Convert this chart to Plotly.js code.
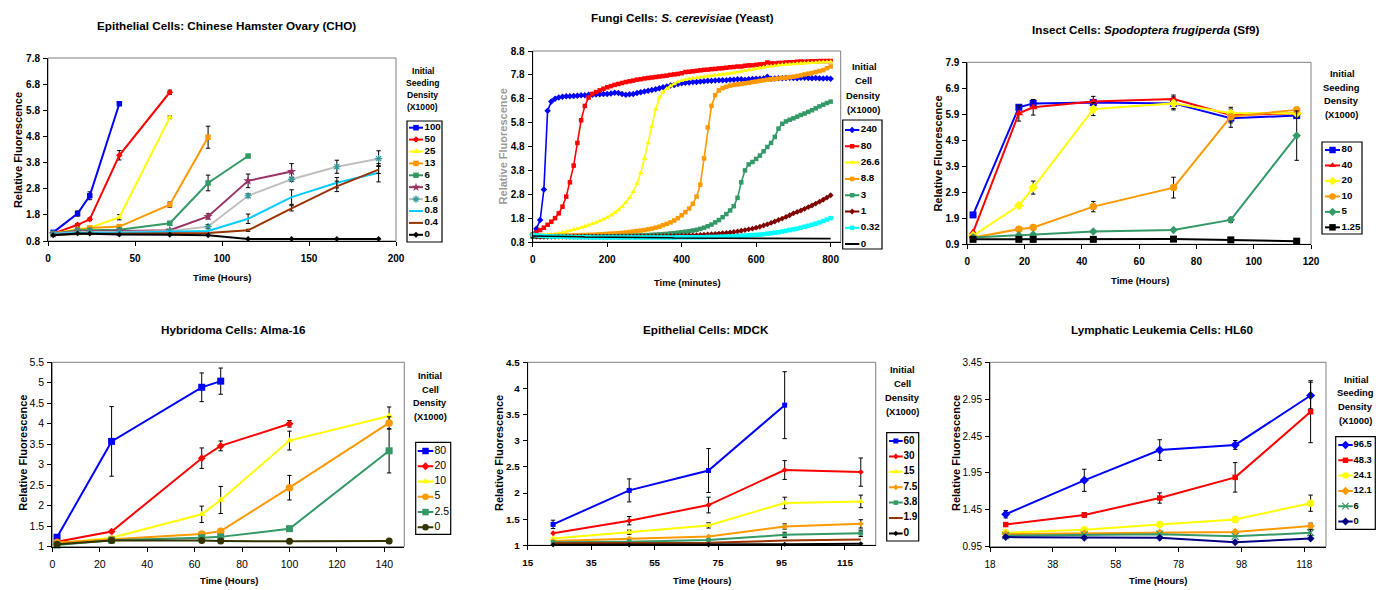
<!DOCTYPE html>
<html><head><meta charset="utf-8">
<script src="https://cdn.plot.ly/plotly-3.0.1.min.js"></script>
<style>html,body{margin:0;padding:0;background:#fff}#chart{width:1394px;height:590px}</style>
</head><body><div id="chart"></div>
<script>
// ================= DATA =================
// Panel 1: CHO
const choTime = [3, 17, 24, 41, 70, 92, 115, 140, 166, 190];
const choLabels = ['100','50','25','13','6','3','1.6','0.8','0.4','0'];
const cho100 = [1.13, 1.85, 2.53, 6.05];
const cho100Err = [0.04, 0.1, 0.15, null];
const cho50 = [1.08, 1.42, 1.63, 4.08, 6.49];
const cho50Err = [null, 0.05, 0.05, 0.18, 0.08];
const cho25 = [1.08, 1.26, 1.30, 1.71, 5.53];
const cho25Err = [null, 0.05, 0.05, 0.1, 0.05];
const cho13 = [1.08, 1.21, 1.30, 1.35, 2.19, 4.77];
const cho13Err = [null, null, 0.05, 0.05, 0.1, 0.42];
const cho6 = [1.08, 1.21, 1.21, 1.23, 1.48, 3.02, 4.05];
const cho6Err = [null, null, null, null, 0.05, 0.3, 0.05];
const cho3 = [1.08, 1.16, 1.16, 1.18, 1.21, 1.74, 3.10, 3.46];
const cho3Err = [null, null, null, null, null, 0.1, 0.26, 0.3];
const cho16 = [1.08, 1.14, 1.14, 1.14, 1.18, 1.35, 2.53, 3.16, 3.64, 3.95];
const cho16Err = [null, null, null, null, null, 0.08, 0.07, 0.08, 0.25, 0.3];
const cho08 = [1.08, 1.12, 1.12, 1.12, 1.14, 1.18, 1.65, 2.48, 3.03, 3.41];
const cho08Err = [null, null, null, null, null, null, 0.18, 0.28, 0.2, 0.35];
const cho04 = [1.04, 1.08, 1.08, 1.08, 1.11, 1.11, 1.21, 2.05, 2.89, 3.53];
const cho04Err = [null, null, null, null, null, null, 0.04, 0.1, 0.2, 0.15];
const cho0 = [1.02, 1.09, 1.08, 1.05, 1.04, 1.02, 0.88, 0.88, 0.88, 0.88];

// Panel 2: Yeast
const yeastTime = [0,10,20,30,40,50,60,70,80,90,100,110,120,130,140,150,160,170,180,190,200,210,220,230,240,250,260,270,280,290,300,310,320,330,340,350,360,370,380,390,400,410,420,430,440,450,460,470,480,490,500,510,520,530,540,550,560,570,580,590,600,610,620,630,640,650,660,670,680,690,700,710,720,730,740,750,760,770,780,790,800];
const yeastLabels = ['240','80','26.6','8.8','3','1','0.32','0'];
const yeast240 = [1.12,1.35,1.72,3.0,6.3,6.68,6.8,6.85,6.88,6.9,
 6.9,6.92,6.93,6.95,6.95,6.97,6.97,6.98,6.99,7.0,
 7.0,7.02,7.05,7.04,7.0,6.97,6.99,7.0,7.04,7.07,
 7.1,7.13,7.17,7.2,7.24,7.28,7.31,7.35,7.38,7.42,
 7.45,7.47,7.48,7.5,7.5,7.52,7.53,7.55,7.55,7.56,
 7.57,7.58,7.58,7.6,7.6,7.62,7.62,7.6,7.62,7.63,
 7.64,7.64,7.65,7.72,7.64,7.65,7.66,7.66,7.67,7.68,
 7.67,7.66,7.68,7.68,7.67,7.66,7.67,7.66,7.65,7.66,7.64];
const yeast80 = [1.1,1.2,1.3,1.4,1.52,1.65,1.8,2.0,2.28,2.7,
 3.3,4.0,4.95,5.9,6.5,6.85,7.0,7.08,7.15,7.22,
 7.28,7.33,7.38,7.42,7.46,7.5,7.53,7.56,7.6,7.62,
 7.65,7.67,7.69,7.71,7.73,7.75,7.77,7.8,7.82,7.84,
 7.87,7.92,7.93,7.95,7.97,7.99,8.01,8.02,8.04,8.05,
 8.07,8.08,8.1,8.12,8.13,8.15,8.15,8.18,8.2,8.2,
 8.22,8.24,8.25,8.32,8.28,8.28,8.3,8.3,8.32,8.33,
 8.33,8.35,8.36,8.35,8.36,8.37,8.37,8.38,8.38,8.38,8.38];
const yeast266 = [1.05,1.06,1.07,1.08,1.1,1.12,1.14,1.17,1.2,1.23,
 1.27,1.31,1.35,1.4,1.45,1.5,1.56,1.62,1.68,1.75,
 1.83,1.92,2.02,2.14,2.28,2.45,2.65,2.9,3.25,3.7,
 4.3,4.95,5.65,6.35,6.85,7.08,7.22,7.33,7.42,7.5,
 7.56,7.6,7.63,7.66,7.68,7.7,7.72,7.74,7.76,7.78,
 7.8,7.82,7.84,7.86,7.88,7.91,7.94,7.97,8.0,8.03,
 8.06,8.09,8.12,8.14,8.16,8.18,8.2,8.22,8.23,8.25,
 8.26,8.27,8.28,8.29,8.3,8.31,8.32,8.33,8.34,8.34,8.35];
const yeast88 = [1.05,1.05,1.05,1.05,1.05,1.05,1.06,1.06,1.06,1.07,
 1.07,1.08,1.08,1.09,1.09,1.1,1.1,1.11,1.12,1.13,
 1.14,1.15,1.16,1.17,1.18,1.2,1.22,1.24,1.26,1.28,
 1.3,1.33,1.36,1.4,1.44,1.5,1.56,1.62,1.7,1.8,
 1.92,2.05,2.2,2.4,2.7,3.2,4.3,5.6,6.5,6.95,
 7.15,7.25,7.3,7.35,7.38,7.4,7.42,7.45,7.47,7.5,
 7.52,7.55,7.57,7.6,7.62,7.63,7.65,7.67,7.68,7.7,
 7.72,7.75,7.78,7.82,7.85,7.88,7.92,7.96,8.0,8.08,8.15];
const yeast3 = [1.02,1.02,1.02,1.02,1.02,1.02,1.02,1.02,1.02,1.02,
 1.02,1.02,1.02,1.03,1.03,1.03,1.03,1.03,1.03,1.04,
 1.04,1.04,1.04,1.05,1.05,1.05,1.06,1.06,1.07,1.08,
 1.08,1.09,1.1,1.11,1.12,1.13,1.14,1.16,1.17,1.19,
 1.21,1.23,1.25,1.28,1.31,1.35,1.4,1.46,1.53,1.62,
 1.72,1.84,1.97,2.12,2.3,2.65,3.3,3.8,4.05,4.15,
 4.28,4.42,4.6,4.78,4.95,5.2,5.55,5.75,5.85,5.92,
 5.98,6.05,6.12,6.18,6.25,6.32,6.4,6.48,6.55,6.62,6.68];
const yeast1 = [1.03,1.03,1.02,1.02,1.02,1.02,1.02,1.02,1.02,1.02,
 1.02,1.02,1.02,1.02,1.02,1.02,1.02,1.02,1.02,1.02,
 1.02,1.02,1.02,1.02,1.02,1.02,1.02,1.03,1.03,1.03,
 1.03,1.03,1.03,1.04,1.04,1.04,1.04,1.05,1.05,1.05,
 1.06,1.06,1.07,1.08,1.09,1.1,1.11,1.12,1.13,1.14,
 1.15,1.17,1.18,1.2,1.22,1.24,1.27,1.3,1.33,1.36,
 1.4,1.44,1.49,1.54,1.6,1.66,1.72,1.78,1.85,1.92,
 2.0,2.06,2.12,2.19,2.26,2.33,2.41,2.49,2.57,2.66,2.76];
const yeast032 = [1.1,1.08,1.06,1.05,1.04,1.03,1.03,1.02,1.02,1.01,
 1.01,1.0,1.0,1.0,1.0,1.0,0.99,0.99,0.99,0.99,
 0.99,0.99,0.99,0.99,0.99,0.99,0.99,0.99,0.99,0.99,
 0.99,0.99,0.99,0.99,0.99,0.99,0.99,0.99,0.99,1.0,
 1.0,1.0,1.0,1.0,1.0,1.0,1.0,1.01,1.01,1.01,
 1.02,1.02,1.03,1.03,1.04,1.05,1.06,1.07,1.08,1.09,
 1.1,1.11,1.13,1.15,1.17,1.19,1.21,1.24,1.27,1.3,
 1.33,1.36,1.4,1.44,1.48,1.52,1.57,1.62,1.68,1.74,1.8];
const yeast0 = [1.05,1.05,1.05,1.04,1.04,1.04,1.03,1.03,1.03,1.03,
 1.02,1.02,1.02,1.02,1.01,1.01,1.01,1.01,1.01,1.0,
 1.0,1.0,1.0,1.0,1.0,0.99,0.99,0.99,0.99,0.99,
 0.99,0.98,0.98,0.98,0.98,0.98,0.98,0.98,0.97,0.97,
 0.97,0.97,0.97,0.97,0.97,0.97,0.96,0.96,0.96,0.96,
 0.96,0.96,0.96,0.96,0.96,0.95,0.95,0.95,0.95,0.95,
 0.95,0.95,0.95,0.95,0.95,0.95,0.94,0.94,0.94,0.94,
 0.94,0.94,0.94,0.94,0.94,0.94,0.94,0.94,0.94,0.94,0.94];

// Panel 3: Sf9
const sf9Time = [2, 18, 23, 44, 72, 92, 115];
const sf9Labels = ['80','40','20','10','5','1.25'];
const sf80 = [2.03, 6.17, 6.32, 6.35, 6.32, 5.75, 5.85];
const sf80Err = [null, null, 0.15, 0.1, 0.2, 0.35, 0.1];
const sf40 = [1.36, 5.94, 6.17, 6.39, 6.49, 5.87, 5.94];
const sf40Err = [null, 0.3, 0.3, 0.2, 0.15, 0.3, 0.15];
const sf20 = [1.23, 2.39, 3.08, 6.10, 6.32, 5.94, 5.94];
const sf20Err = [null, 0.08, 0.25, 0.25, 0.25, null, null];
const sf10 = [1.16, 1.48, 1.55, 2.35, 3.08, 5.81, 6.07];
const sf10Err = [null, null, null, 0.2, 0.4, null, 0.1];
const sf5 = [1.16, 1.25, 1.28, 1.39, 1.45, 1.84, 5.08];
const sf5Err = [null, null, null, null, null, 0.1, 0.95];
const sf125 = [1.09, 1.09, 1.09, 1.09, 1.10, 1.07, 1.02];

// Panel 4: Alma-16
const almaTime = [2, 25, 63, 71, 100, 142];
const almaLabels = ['80','20','10','5','2.5','0'];
const alma80 = [1.23, 3.57, 4.89, 5.04];
const alma80Err = [null, 0.85, 0.35, 0.32];
const alma20 = [1.12, 1.37, 3.16, 3.46, 4.0];
const alma20Err = [null, null, 0.25, 0.12, 0.08];
const alma10 = [1.08, 1.22, 1.79, 2.14, 3.59, 4.19];
const alma10Err = [null, null, 0.2, 0.33, 0.23, 0.22];
const alma5 = [1.1, 1.18, 1.31, 1.38, 2.44, 4.02];
const alma5Err = [null, null, null, null, 0.3, 0.15];
const alma25 = [1.04, 1.16, 1.22, 1.24, 1.44, 3.34];
const alma25Err = [null, null, null, null, null, 0.54];
const alma0 = [1.06, 1.15, 1.15, 1.14, 1.13, 1.14];

// Panel 5: MDCK
const mdckTime = [23, 47, 72, 96, 120];
const mdckLabels = ['60','30','15','7.5','3.8','1.9','0'];
const mdck60 = [1.40, 2.05, 2.43, 3.68];
const mdck60Err = [0.08, 0.22, 0.42, 0.64];
const mdck30 = [1.23, 1.47, 1.77, 2.44, 2.40];
const mdck30Err = [null, 0.08, 0.15, 0.18, 0.27];
const mdck15 = [1.13, 1.25, 1.38, 1.81, 1.84];
const mdck15Err = [null, 0.04, 0.05, 0.11, 0.12];
const mdck75 = [1.08, 1.13, 1.17, 1.36, 1.41];
const mdck75Err = [null, null, null, 0.05, 0.08];
const mdck38 = [1.06, 1.07, 1.10, 1.20, 1.23];
const mdck38Err = [null, null, null, 0.05, 0.06];
const mdck19 = [1.04, 1.04, 1.05, 1.09, 1.11];
const mdck0 = [1.01, 1.01, 1.01, 1.02, 1.03];

// Panel 6: HL60
const hlTime = [23, 48, 72, 96, 120];
const hlLabels = ['96.5','48.3','24.1','12.1','6','0'];
const hl965 = [1.39, 1.85, 2.26, 2.33, 3.0];
const hl965Err = [0.05, 0.15, 0.14, 0.06, 0.18];
const hl483 = [1.25, 1.38, 1.61, 1.89, 2.78];
const hl483Err = [null, 0.03, 0.07, 0.2, 0.42];
const hl241 = [1.14, 1.18, 1.25, 1.32, 1.54];
const hl241Err = [null, null, null, 0.04, 0.11];
const hl121 = [1.12, 1.13, 1.14, 1.15, 1.23];
const hl121Err = [null, null, null, null, 0.04];
const hl6 = [1.10, 1.11, 1.12, 1.09, 1.14];
const hl6Err = [null, null, null, null, 0.04];
const hl0 = [1.08, 1.07, 1.07, 1.01, 1.06];

// ================= LAYOUT / STYLE =================
const W = 1394, H = 590;
const FONT = 'Liberation Sans, Arial, Helvetica, sans-serif';
const fx = p => p / W, fy = p => 1 - p / H;

function S(color, symbol, size, extra) { return Object.assign({color: color, symbol: symbol, size: size}, extra || {}); }

const PANELS = [
 { title: '<b>Epithelial Cells: Chinese Hamster Ovary (CHO)</b>', tpos: [226.3, 25],
   box: [48, 58, 396, 241], xr: [0, 200], x0: 0, xdt: 50, yr: [0.8, 7.8], y0: 0.8, ydt: 1, yfmt: '.1f',
   tickBold: true, tickSize: 10,
   xTitle: 'Time (Hours)', xtpos: [221.7, 277.3], xtSize: 9.5, ytpos: [18.3, 149.8], ytColor: '#000',
   legTitle: ['Initial','Seeding','Density','(X1000)'], ltx: 422.5, lty: [71, 82.7, 95, 106.7], ltSize: 8.6,
   legBox: [407, 121, 442, 242], legFirst: 127.7, legStep: 11.9, legLine: [2, 16], legText: 17.5, legSize: 9.7, legBold: true,
   time: choTime, labels: choLabels,
   values: [cho100, cho50, cho25, cho13, cho6, cho3, cho16, cho08, cho04, cho0],
   errors: [cho100Err, cho50Err, cho25Err, cho13Err, cho6Err, cho3Err, cho16Err, cho08Err, cho04Err, null],
   styles: [S('#0000FF','square',5.5), S('#FF0000','diamond',5), S('#FFFF00','triangle-up',6), S('#FF9900','square',5.5),
            S('#339966','square',5.5), S('#993366','star',7), S('#C0C0C0','asterisk-open',6,{mcolor:'#339999'}),
            S('#00CCFF',null,0), S('#993300',null,0), S('#000000','diamond',4.5)],
   lw: 2 },
 { title: '<b>Fungi Cells: <i>S. cerevisiae</i> (Yeast)</b>', tpos: [682, 17.3],
   box: [532.7, 51, 840.7, 242], xr: [0, 827], x0: 0, xdt: 200, yr: [0.8, 8.8], y0: 0.8, ydt: 1, yfmt: '.1f',
   tickBold: true, tickSize: 10,
   xTitle: 'Time (minutes)', xtpos: [687, 282.3], xtSize: 9.4, ytpos: [502.7, 146.7], ytColor: '#9a9a9a',
   legTitle: ['Initial','Cell','Density','(X1000)'], ltx: 864, lty: [66.3, 81, 95.7, 110], ltSize: 9.4,
   legBox: [842.7, 120, 882, 249], legFirst: 130, legStep: 16.3, legLine: [2.3, 16.6], legText: 18, legSize: 9.8, legBold: true,
   time: yeastTime, labels: yeastLabels,
   values: [yeast240, yeast80, yeast266, yeast88, yeast3, yeast1, yeast032, yeast0],
   errors: [null, null, null, null, null, null, null, null],
   styles: [S('#0000FF','diamond',5), S('#FF0000','square',4.5), S('#FFFF00','triangle-up',5), S('#FF9900','square',4.5),
            S('#339966','square',4.5), S('#800000','diamond',4.5), S('#00FFFF','square',4.5), S('#000000',null,0)],
   lw: 1.6 },
 { title: '<b>Insect Cells: <i>Spodoptera frugiperda</i> (Sf9)</b>', tpos: [1145.8, 30],
   box: [967.3, 62.3, 1311, 244.3], xr: [0, 120], x0: 0, xdt: 20, yr: [0.9, 7.9], y0: 0.9, ydt: 1, yfmt: '.1f',
   tickBold: true, tickSize: 10,
   xTitle: 'Time (Hours)', xtpos: [1139.5, 280.7], xtSize: 9.5, ytpos: [938.3, 153.3], ytColor: '#000',
   legTitle: ['Initial','Seeding','Density','(X1000)'], ltx: 1341.7, lty: [73.3, 87.3, 100, 114.3], ltSize: 9.4,
   legBox: [1322, 142, 1362, 234], legFirst: 150, legStep: 15.47, legLine: [3, 18], legText: 19.5, legSize: 9.7, legBold: true,
   time: sf9Time, labels: sf9Labels,
   values: [sf80, sf40, sf20, sf10, sf5, sf125],
   errors: [sf80Err, sf40Err, sf20Err, sf10Err, sf5Err, null],
   styles: [S('#0000FF','square',7), S('#FF0000','triangle-up',7.5), S('#FFFF00','diamond',7.5), S('#FF9900','circle',7.5),
            S('#339966','diamond',6.5), S('#000000','square',7)],
   lw: 2 },
 { title: '<b>Hybridoma Cells: Alma-16</b>', tpos: [233, 329.3],
   box: [52.3, 362.3, 404.3, 546.7], xr: [0, 148.4], x0: 0, xdt: 20, yr: [1, 5.5], y0: 1, ydt: 0.5, yfmt: '',
   tickBold: false, tickSize: 10.5,
   xTitle: 'Time (Hours)', xtpos: [228.8, 580.7], xtSize: 9.5, ytpos: [22.7, 453], ytColor: '#000',
   legTitle: ['Initial','Cell','Density','(X1000)'], ltx: 430, lty: [376, 390, 403.3, 417.3], ltSize: 9.2,
   legBox: [415.7, 442.3, 450.7, 534.3], legFirst: 451, legStep: 15.27, legLine: [2, 17.6], legText: 18.8, legSize: 10.5, legBold: false,
   time: almaTime, labels: almaLabels,
   values: [alma80, alma20, alma10, alma5, alma25, alma0],
   errors: [alma80Err, alma20Err, alma10Err, alma5Err, alma25Err, null],
   styles: [S('#0000FF','square',7), S('#FF0000','diamond',6), S('#FFFF00','triangle-up',7), S('#FF9900','circle',7.5),
            S('#339966','square',7), S('#333300','circle',7)],
   lw: 2 },
 { title: '<b>Epithelial Cells: MDCK</b>', tpos: [705.8, 329.3],
   box: [527.7, 362.3, 875.7, 545.3], xr: [15, 124.7], x0: 15, xdt: 20, yr: [1, 4.5], y0: 1, ydt: 0.5, yfmt: '',
   tickBold: true, tickSize: 9.8,
   xTitle: 'Time (Hours)', xtpos: [702, 580.7], xtSize: 9.5, ytpos: [499, 453], ytColor: '#000',
   legTitle: ['Initial','Cell','Density','(X1000)'], ltx: 902, lty: [369, 383.3, 397.3, 411], ltSize: 9.4,
   legBox: [886.7, 432.7, 918.7, 541], legFirst: 441, legStep: 15.4, legLine: [2.3, 16], legText: 16.8, legSize: 10, legBold: true,
   time: mdckTime, labels: mdckLabels,
   values: [mdck60, mdck30, mdck15, mdck75, mdck38, mdck19, mdck0],
   errors: [mdck60Err, mdck30Err, mdck15Err, mdck75Err, mdck38Err, null, null],
   styles: [S('#0000FF','square',5), S('#FF0000','diamond',4.5), S('#FFFF00','triangle-up',6), S('#FF9900','diamond',4.5),
            S('#339966','square',4.5), S('#993300',null,0), S('#000000','diamond',4)],
   lw: 2 },
 { title: '<b>Lymphatic Leukemia Cells: HL60</b>', tpos: [1162.7, 329.3],
   box: [990, 362.3, 1326, 546.7], xr: [18, 124.9], x0: 18, xdt: 20, yr: [0.95, 3.45], y0: 0.95, ydt: 0.5, yfmt: '.2f',
   tickBold: false, tickSize: 10,
   xTitle: 'Time (Hours)', xtpos: [1158, 580.7], xtSize: 9.5, ytpos: [956, 453], ytColor: '#000',
   legTitle: ['Initial','Seeding','Density','(X1000)'], ltx: 1355.8, lty: [379, 392.3, 406.3, 420], ltSize: 9.4,
   legBox: [1335.7, 436.7, 1375.3, 529.3], legFirst: 445, legStep: 15.3, legLine: [2.6, 17], legText: 17.8, legSize: 9.4, legBold: true,
   time: hlTime, labels: hlLabels,
   values: [hl965, hl483, hl241, hl121, hl6, hl0],
   errors: [hl965Err, hl483Err, hl241Err, hl121Err, hl6Err, null],
   styles: [S('#0000FF','diamond',7), S('#FF0000','square',5.5), S('#FFFF00','circle',7.5), S('#FF9900','diamond',6.5),
            S('#339966','x-thin-open',7,{mcolor:'#339966'}), S('#000080','diamond',6)],
   lw: 2 }
];

const layout = {
  width: W, height: H, margin: {l: 0, r: 0, t: 0, b: 0},
  paper_bgcolor: '#ffffff', plot_bgcolor: 'rgba(0,0,0,0)', showlegend: false,
  font: {family: FONT, color: '#000'}, annotations: [], shapes: []
};
const traces = [];
const isOpen = s => s && (s.indexOf('open') >= 0);

function ann(text, cx, cy, size, opts) {
  layout.annotations.push(Object.assign({
    text: text, xref: 'paper', yref: 'paper', x: fx(cx), y: fy(cy), xanchor: 'center', yanchor: 'middle',
    showarrow: false, font: {family: FONT, size: size, color: '#000'}
  }, opts || {}));
}

PANELS.forEach((p, i) => {
  const k = i + 1, sfx = k === 1 ? '' : String(k);
  const xa = 'x' + sfx, ya = 'y' + sfx;
  const [L, T, R, B] = p.box;
  const tf = {family: FONT, size: p.tickSize, color: '#000', weight: p.tickBold ? 'bold' : 'normal'};
  const axBase = {ticks: 'outside', ticklen: 4, tickwidth: 1, tickcolor: '#000', showline: true, linecolor: '#000',
    linewidth: 1, showgrid: false, zeroline: false, tickfont: tf, fixedrange: true, tickmode: 'linear'};
  layout['xaxis' + sfx] = Object.assign({}, axBase, {domain: [fx(L), fx(R)], anchor: ya, range: p.xr, tick0: p.x0, dtick: p.xdt, ticklabelstandoff: 4});
  layout['yaxis' + sfx] = Object.assign({}, axBase, {domain: [fy(B), fy(T)], anchor: xa, range: p.yr, tick0: p.y0, dtick: p.ydt, tickformat: p.yfmt, ticklabelstandoff: 1});
  layout.shapes.push({type: 'rect', xref: xa + ' domain', yref: ya + ' domain', x0: 0, x1: 1, y0: 0, y1: 1,
    line: {color: '#808080', width: 1}, layer: 'below'});

  // data traces
  p.values.forEach((vals, j) => {
    const st = p.styles[j];
    const e = p.errors[j];
    const t = {
      type: 'scatter', x: p.time.slice(0, vals.length), y: vals, xaxis: xa, yaxis: ya, name: p.labels[j],
      mode: st.symbol ? 'lines+markers' : 'lines', line: {color: st.color, width: p.lw}, hoverinfo: 'skip', cliponaxis: false
    };
    if (st.symbol) {
      const mc = st.mcolor || st.color;
      t.marker = {symbol: st.symbol, size: st.size, color: mc, line: {color: mc, width: isOpen(st.symbol) ? 1.2 : 0}};
    }
    if (e) {
      t.error_y = {type: 'data', symmetric: true, array: e.map(v => (v === null ? NaN : v)), color: '#000', thickness: 1, width: 2.2, visible: true};
    }
    traces.push(t);
  });

  // texts
  ann(p.title, p.tpos[0], p.tpos[1], 11.7);
  ann('<b>' + p.xTitle + '</b>', p.xtpos[0], p.xtpos[1], p.xtSize);
  ann('<b>Relative Fluorescence</b>', p.ytpos[0], p.ytpos[1], 11, {textangle: -90, font: {family: FONT, size: 11, color: p.ytColor}});
  p.legTitle.forEach((s, m) => ann('<b>' + s + '</b>', p.ltx, p.lty[m], p.ltSize));

  // legend (drawn on its own hidden axes)
  const lk = k + 6, lsfx = String(lk);
  const [lL, lT, lR, lB] = p.legBox;
  layout['xaxis' + lsfx] = {domain: [fx(lL), fx(lR)], range: [0, lR - lL], visible: false, fixedrange: true, anchor: 'y' + lsfx};
  layout['yaxis' + lsfx] = {domain: [fy(lB), fy(lT)], range: [lB - lT, 0], visible: false, fixedrange: true, anchor: 'x' + lsfx};
  layout.shapes.push({type: 'rect', xref: 'paper', yref: 'paper', x0: fx(lL), x1: fx(lR), y0: fy(lB), y1: fy(lT),
    line: {color: '#000', width: 1.2}, fillcolor: 'rgba(0,0,0,0)'});
  const centers = p.labels.map((_, j) => p.legFirst - lT + j * p.legStep);
  const [l0, l1] = p.legLine, mid = (l0 + l1) / 2;
  p.labels.forEach((lab, j) => {
    const st = p.styles[j];
    traces.push({type: 'scatter', mode: 'lines', x: [l0, l1], y: [centers[j], centers[j]], xaxis: 'x' + lsfx, yaxis: 'y' + lsfx,
      line: {color: st.color, width: 2}, hoverinfo: 'skip', cliponaxis: false});
    if (st.symbol) {
      const mc = st.mcolor || st.color;
      traces.push({type: 'scatter', mode: 'markers', x: [mid], y: [centers[j]], xaxis: 'x' + lsfx, yaxis: 'y' + lsfx,
        marker: {symbol: st.symbol, size: Math.min(st.size, 6.5), color: mc, line: {color: mc, width: isOpen(st.symbol) ? 1.2 : 0}},
        hoverinfo: 'skip', cliponaxis: false});
    }
  });
  traces.push({type: 'scatter', mode: 'text', x: p.labels.map(() => p.legText), y: centers, text: p.labels,
    textposition: 'middle right', xaxis: 'x' + lsfx, yaxis: 'y' + lsfx, hoverinfo: 'skip', cliponaxis: false,
    textfont: {family: FONT, size: p.legSize, color: '#000', weight: p.legBold ? 'bold' : 'normal'}});
});

Plotly.newPlot('chart', traces, layout, {staticPlot: true, displayModeBar: false});
</script></body></html>
